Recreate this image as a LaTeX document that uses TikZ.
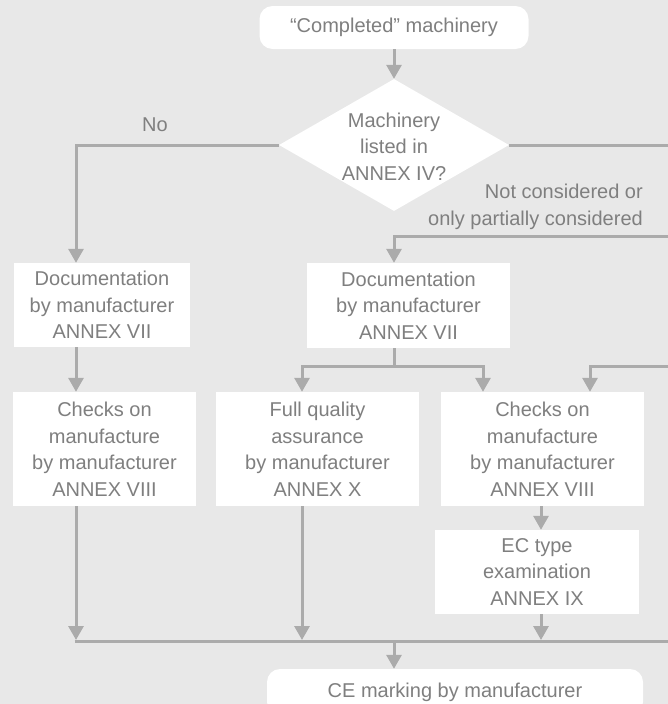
\documentclass[tikz,border=0pt]{standalone}
\usepackage{fontspec}
\setmainfont{Liberation Sans}
\usetikzlibrary{arrows.meta,shapes.geometric}
\definecolor{bgc}{HTML}{E8E8E8}
\definecolor{lnc}{HTML}{ABABAB}
\definecolor{txc}{HTML}{7F7F7F}
\begin{document}
\begin{tikzpicture}[x=1pt,y=-1pt,
  box/.style={fill=white, inner sep=0pt, align=center, text=txc, font=\fontsize{20}{26.5}\selectfont},
  rbox/.style={box, rounded corners=13pt},
  lbl/.style={inner sep=0pt, text=txc, font=\fontsize{20}{26.5}\selectfont},
  conn/.style={draw=lnc, line width=3pt},
  arr/.style={conn, -{Triangle[length=14pt,width=15pt]}}]
\useasboundingbox (0,0) rectangle (668,704);
\fill[bgc] (0,0) rectangle (668,704);
\clip (0,0) rectangle (668,704);

% nodes
\node[rbox, minimum width=269pt, minimum height=43pt] (top) at (394,27.5) {“Completed” machinery};
\node[diamond, fill=white, inner sep=0pt, minimum width=230pt, minimum height=132pt] (dia) at (394,145) {};
\node[lbl, align=center] (diat) at (394,146.5) {Machinery\\listed in\\ANNEX IV?};
\node[lbl] (no) at (155,125) {No};
\node[lbl, align=right, anchor=east] (nc) at (643,207) {Not considered or\\only partially considered};

\node[box, minimum width=176pt, minimum height=84pt] (doc1) at (102,305) {Documentation\\by manufacturer\\ANNEX VII};
\node[box, minimum width=203pt, minimum height=85pt] (doc2) at (408.5,305.5) {Documentation\\by manufacturer\\ANNEX VII};

\node[box, minimum width=183pt, minimum height=114pt] (chk1) at (104.5,449) {Checks on\\manufacture\\by manufacturer\\ANNEX VIII};
\node[box, minimum width=203pt, minimum height=114pt] (fqa) at (317.5,449) {Full quality\\assurance\\by manufacturer\\ANNEX X};
\node[box, minimum width=203pt, minimum height=114pt] (chk2) at (542.5,449) {Checks on\\manufacture\\by manufacturer\\ANNEX VIII};
\node[box, minimum width=204pt, minimum height=84pt] (ec) at (537,572) {EC type\\examination\\ANNEX IX};
\node[rbox, minimum width=376pt, minimum height=46pt] (ce) at (455,692) {CE marking by manufacturer};

% reference coordinates
\coordinate (xL) at (76,0);
\coordinate (xM) at (394,0);
\coordinate (xF) at (302,0);
\coordinate (xC) at (483,0);
\coordinate (xR) at (590,0);
\coordinate (xE) at (541,0);
\coordinate (rE1) at (672,145);
\coordinate (rE2) at (672,236);
\coordinate (rE3) at (672,366);
\coordinate (sp) at (394,366);
\coordinate (bl) at (74.5,641);
\coordinate (br) at (672,641);
\coordinate (bt) at (0,640);

% connectors
\draw[arr] (top.south) -- (dia.north);
\draw[arr] (dia.west) -| (xL |- doc1.north);
\draw[conn] (dia.east) -- (dia.east -| rE1);
\draw[arr] (rE2) -| (xM |- doc2.north);
\draw[arr] (xL |- doc1.south) -- (xL |- chk1.north);
\draw[conn] (xM |- doc2.south) -- (sp);
\draw[arr] (sp) -| (xF |- fqa.north);
\draw[arr] (sp) -| (xC |- chk2.north);
\draw[arr] (rE3) -| (xR |- chk2.north);
\draw[arr] (xE |- chk2.south) -- (xE |- ec.north);
\draw[conn] (bl) -- (br);
\draw[arr] (xL |- chk1.south) -- (xL |- bt);
\draw[arr] (xF |- fqa.south) -- (xF |- bt);
\draw[arr] (xE |- ec.south) -- (xE |- bt);
\draw[arr] (xM |- bl) -- (xM |- ce.north);
\end{tikzpicture}
\end{document}
